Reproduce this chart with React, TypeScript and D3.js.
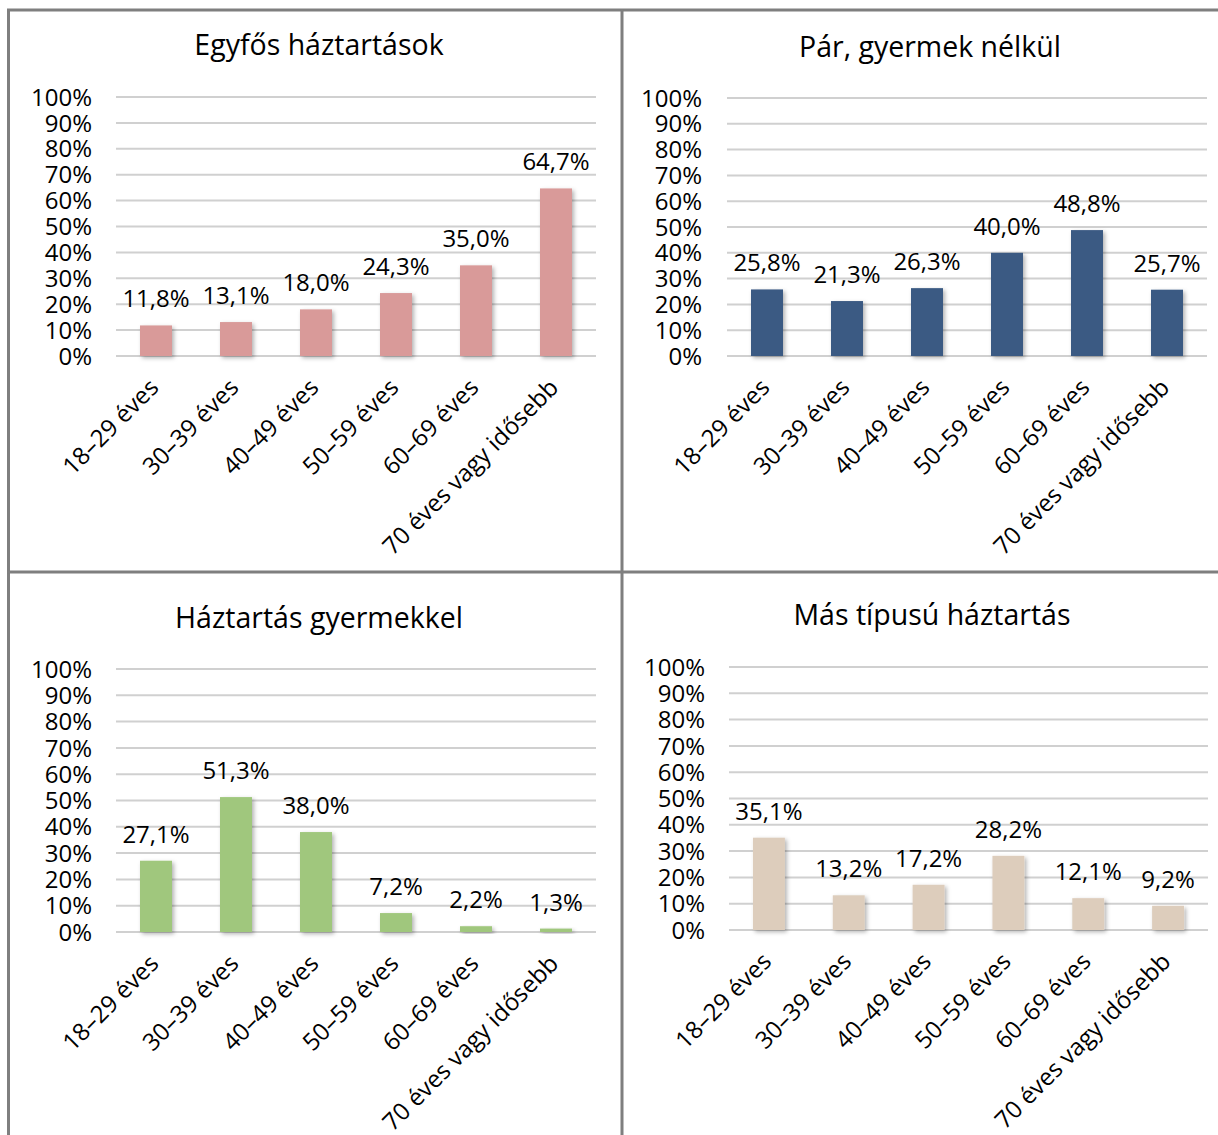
import React from 'react';
import * as d3 from 'd3';

// age groups (x axis)
const categories = [
  '18–29 éves',
  '30–39 éves',
  '40–49 éves',
  '50–59 éves',
  '60–69 éves',
  '70 éves vagy idősebb',
];

// percentages per household type
const singleValues = [11.8, 13.1, 18.0, 24.3, 35.0, 64.7];
const coupleValues = [25.8, 21.3, 26.3, 40.0, 48.8, 25.7];
const childValues = [27.1, 51.3, 38.0, 7.2, 2.2, 1.3];
const otherValues = [35.1, 13.2, 17.2, 28.2, 12.1, 9.2];

const titles = ['Egyfős háztartások', 'Pár, gyermek nélkül', 'Háztartás gyermekkel', 'Más típusú háztartás'];
const yTicks = [0, 10, 20, 30, 40, 50, 60, 70, 80, 90, 100];

// layout of the four panels
const panels = [
  { title: titles[0], values: singleValues, color: '#d99a99', left: 116, right: 596, top: 97, bottom: 356, titleX: 319, titleY: 55, tickX: 92 },
  { title: titles[1], values: coupleValues, color: '#3b5a83', left: 727, right: 1207, top: 98, bottom: 356, titleX: 930, titleY: 57, tickX: 702 },
  { title: titles[2], values: childValues, color: '#a0c77d', left: 116, right: 596, top: 669, bottom: 932, titleX: 319, titleY: 628, tickX: 92 },
  { title: titles[3], values: otherValues, color: '#ddcdbc', left: 729, right: 1208, top: 667, bottom: 930, titleX: 932, titleY: 625, tickX: 705 },
];

const fmt = (v: number) => v.toFixed(1).replace('.', ',') + '%';

const FONT = '"Open Sans", sans-serif';

function Panel({ p }: { p: typeof panels[number] }) {
  const x = d3.scaleBand<string>().domain(categories).range([p.left, p.right]).paddingInner(0.6).paddingOuter(0.3);
  const y = d3.scaleLinear().domain([0, 100]).range([p.bottom, p.top]);

  return (
    <g>
      <text x={p.titleX} y={p.titleY} textAnchor="middle" fontSize={28.5} fill="#000">
        {p.title}
      </text>

      {/* gridlines + y labels */}
      {yTicks.map((t) => (
        <g key={t}>
          <line x1={p.left} x2={p.right} y1={y(t)} y2={y(t)} stroke="#d0d0d0" strokeWidth={2} />
          <text x={p.tickX} y={y(t)} dy="0.36em" textAnchor="end" fontSize={24} fill="#000">
            {t}%
          </text>
        </g>
      ))}

      {/* bars */}
      {p.values.map((v, i) => (
        <rect
          key={i}
          x={x(categories[i])}
          y={y(v)}
          width={x.bandwidth()}
          height={y(0) - y(v)}
          fill={p.color}
          filter="url(#shadow)"
        />
      ))}

      {/* value labels */}
      {p.values.map((v, i) => (
        <text
          key={i}
          x={(x(categories[i]) as number) + x.bandwidth() / 2}
          y={y(v) - 18}
          textAnchor="middle"
          fontSize={24}
          fill="#000"
        >
          {fmt(v)}
        </text>
      ))}

      {/* rotated category labels */}
      {categories.map((c) => {
        const cx = (x(c) as number) + x.bandwidth() / 2 + 4;
        const cy = p.bottom + 33;
        return (
          <text key={c} transform={`translate(${cx},${cy}) rotate(-45)`} textAnchor="end" fontSize={24} fill="#000">
            {c}
          </text>
        );
      })}
    </g>
  );
}

export default function App() {
  return (
    <div style={{ position: 'absolute', left: 0, top: 0 }}>
      <svg width={1218} height={1135} style={{ display: 'block', fontFamily: FONT, background: '#fff' }}>
        <defs>
          <filter id="shadow" x="-20%" y="-20%" width="150%" height="150%">
            <feDropShadow dx={2} dy={2} stdDeviation={2} floodColor="#000" floodOpacity={0.3} />
          </filter>
        </defs>
        <rect width={1218} height={1135} fill="#fff" />

        {panels.map((p, i) => (
          <Panel key={i} p={p} />
        ))}

        {/* frame */}
        <g stroke="#7f7f7f" strokeWidth={3}>
          <line x1={8.5} x2={8.5} y1={9} y2={1135} />
          <line x1={7} x2={1218} y1={10} y2={10} />
          <line x1={622} x2={622} y1={9} y2={1135} />
          <line x1={7} x2={1218} y1={572} y2={572} />
        </g>
      </svg>
    </div>
  );
}
